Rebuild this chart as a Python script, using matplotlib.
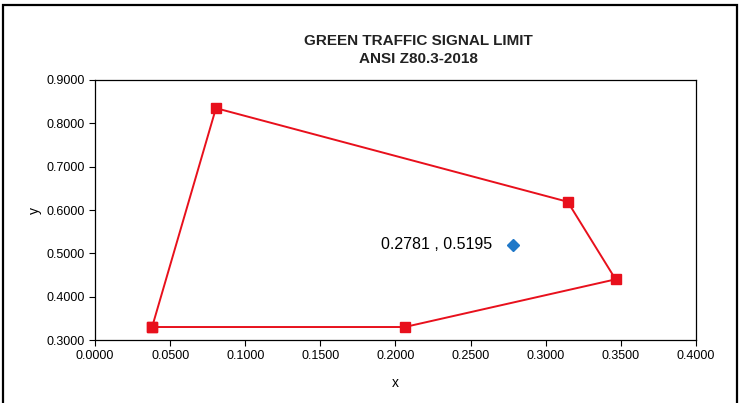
import matplotlib.pyplot as plt
from matplotlib.patches import Rectangle

# Đỉnh của vùng giới hạn (đóng kín)
limit_x = [0.0380, 0.0805, 0.3146, 0.3465, 0.2062, 0.0380]
limit_y = [0.3300, 0.8350, 0.6190, 0.4400, 0.3300, 0.3300]
# Điểm đo
meas_x = [0.2781]
meas_y = [0.5195]
xticks = [0.0, 0.05, 0.1, 0.15, 0.2, 0.25, 0.3, 0.35, 0.4]
yticks = [0.3, 0.4, 0.5, 0.6, 0.7, 0.8, 0.9]

plt.rcParams['font.family'] = ['Liberation Sans', 'DejaVu Sans']

fig = plt.figure(figsize=(7.4, 4.03), dpi=100)
ax = fig.add_axes([0.1284, 0.1563, 0.8121, 0.6452])

ax.plot(limit_x, limit_y, color='#e8101c', lw=1.4, marker='s', ms=6.5,
        markerfacecolor='#e8101c', markeredgecolor='#e8101c')
ax.plot(meas_x, meas_y, linestyle='none', marker='D', ms=6,
        color='#1f78c8')
ax.annotate('%.4f , %.4f' % (meas_x[0], meas_y[0]), (meas_x[0], meas_y[0]),
            xytext=(-15, 0), textcoords='offset points',
            ha='right', va='center', fontsize=11.5)

ax.set_xlim(0, 0.4)
ax.set_ylim(0.3, 0.9)
ax.set_xticks(xticks)
ax.set_yticks(yticks)
ax.set_xticklabels(['%.4f' % v for v in xticks], fontsize=9)
ax.set_yticklabels(['%.4f' % v for v in yticks], fontsize=9)
ax.tick_params(direction='out', length=4, width=0.8)
for s in ax.spines.values():
    s.set_linewidth(0.9)

ax.set_xlabel('x', fontsize=10, labelpad=10)
ax.set_ylabel('y', fontsize=10, labelpad=3)
fig.text(0.565, 0.898, 'GREEN TRAFFIC SIGNAL LIMIT', ha='center', va='center',
         fontsize=11, fontweight='bold', color='#222222')
fig.text(0.565, 0.853, 'ANSI Z80.3-2018', ha='center', va='center',
         fontsize=11, fontweight='bold', color='#222222')

# Khung viền ngoài
fig.patches.append(Rectangle((0.004, -0.02), 0.992, 1.008, transform=fig.transFigure,
                             fill=False, edgecolor='black', lw=1.6))

plt.savefig('out.png', dpi=100)
